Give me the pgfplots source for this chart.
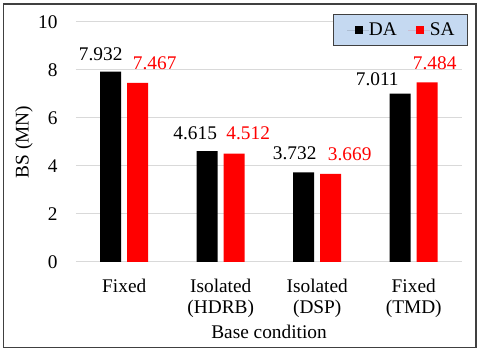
\documentclass[border=0pt]{standalone}
\usepackage{fontspec}
\setmainfont{LiberationSerif}[Extension=.ttf, UprightFont=*-Regular, BoldFont=*-Bold]
\usepackage{pgfplots}
\usepackage{pgfplotstable}
\pgfplotsset{compat=1.18}

\definecolor{legblue}{RGB}{197,217,241}
\definecolor{gridgray}{RGB}{217,217,217}

% x, value, label shift (pt)
\pgfplotstableread{
x y dx dy
0 7.932 -7.5 8.7
1 4.615 -9 9
2 3.732 -6.75 9.75
3 7.011 -17.25 6
}\tabDA
\pgfplotstableread{
x y dx dy
0 7.467 12.75 9.75
1 4.512 10.5 10.3
2 3.669 14.25 10
3 7.484 5.6 9.3
}\tabSA

\begin{document}
\begin{tikzpicture}[font=\rmfamily\fontsize{14.5}{15.75}\selectfont]
\useasboundingbox (0,0) rectangle (360pt,264pt);
\draw[black!75, line width=1.1pt] (2.6pt,3.4pt) rectangle (357pt,261pt);
\begin{axis}[
    at={(57pt,67.5pt)}, anchor=south west,
    scale only axis,
    width=289.5pt, height=180pt,
    ybar=4.5pt, bar width=15.75pt,
    xmin=-0.5, xmax=3.5,
    ymin=0, ymax=10,
    xtick={0,1,2,3},
    xticklabels={Fixed, {Isolated\\(HDRB)}, {Isolated\\(DSP)}, {Fixed\\(TMD)}},
    ytick={0,2,...,10},
    /pgf/number format/assume math mode=true,
    major tick length=0pt,
    axis x line*=bottom, axis y line*=left,
    y axis line style={draw=none},
    x axis line style={gridgray, line width=0.75pt},
    ymajorgrids,
    grid style={gridgray, line width=0.75pt},
    xticklabel style={align=center, anchor=north, inner sep=0pt, yshift=-12.75pt},
    yticklabel style={anchor=east, inner sep=0pt, xshift=-13.7pt},
    xlabel={Base condition},
    xlabel style={at={(axis description cs:0.5,-0.3208)}, anchor=base, inner sep=0pt},
    ylabel={BS (MN)},
    ylabel style={at={(axis description cs:-0.1347,0.5)}, anchor=center, inner sep=0pt},
    legend columns=2,
    legend image code/.code={
        \path (0pt,0pt) rectangle (16.5pt,0pt);
        \fill[#1] (6pt,-3.2pt) rectangle (12pt,3.2pt);
    },
    legend style={
        at={(rel axis cs:1.0155,1.033)}, anchor=north east,
        fill=legblue, draw=black!75, line width=0.75pt,
        inner xsep=9.75pt, inner ysep=6pt,
        column sep=0pt,
        nodes={inner sep=0pt},
        /tikz/every even column/.append style={column sep=8.25pt},
    },
    point meta=explicit symbolic,
    nodes near coords,
]
\addplot[fill=black, draw=none,
    visualization depends on={\thisrow{dx}\as\dx},
    visualization depends on={\thisrow{dy}\as\dy},
    nodes near coords style={anchor=base, inner sep=0pt, text=black, xshift=\dx pt, yshift=\dy pt},
] table[x=x, y=y, meta=y] {\tabDA};
\addplot[fill=red, draw=none,
    visualization depends on={\thisrow{dx}\as\dx},
    visualization depends on={\thisrow{dy}\as\dy},
    nodes near coords style={anchor=base, inner sep=0pt, text=red, xshift=\dx pt, yshift=\dy pt},
] table[x=x, y=y, meta=y] {\tabSA};
\legend{DA, SA}
\end{axis}
\end{tikzpicture}
\end{document}
